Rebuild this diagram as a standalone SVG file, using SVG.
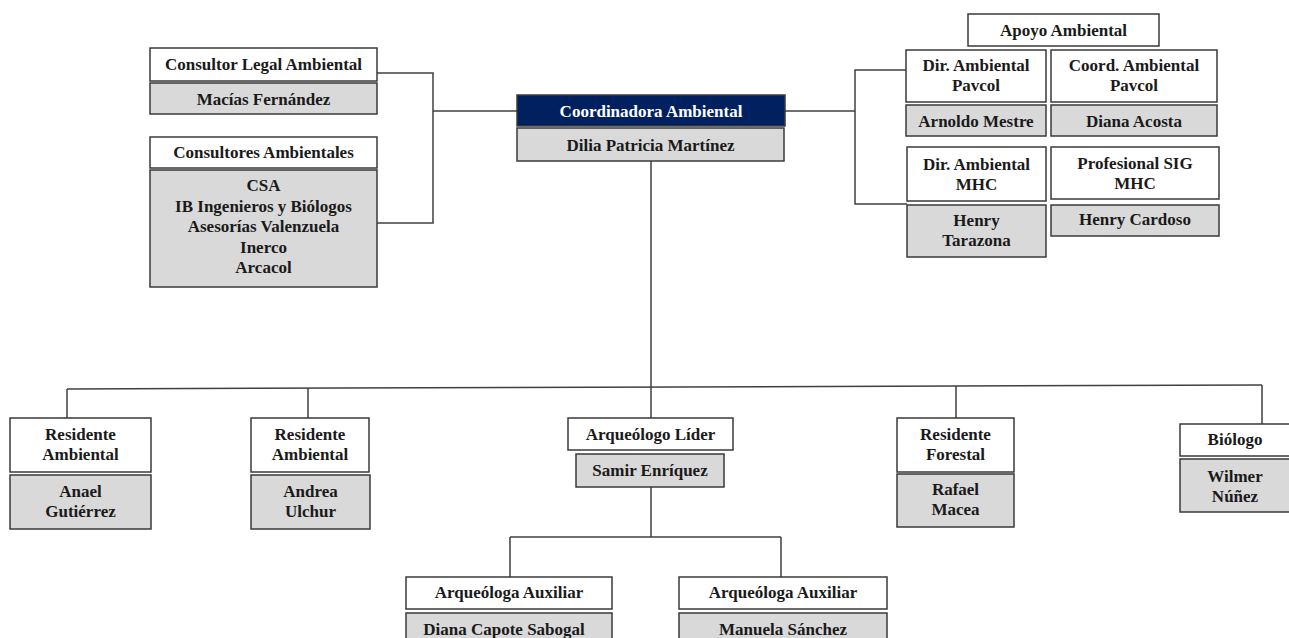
<svg xmlns="http://www.w3.org/2000/svg" width="1289" height="638" viewBox="0 0 1289 638">
<style>
text{font-family:"Liberation Serif","Times New Roman",serif;font-weight:bold;font-size:17px;fill:#1a1a1a;text-anchor:middle}
.w{fill:#ffffff;stroke:#3a3a3a;stroke-width:1.5}
.g{fill:#d9d9d9;stroke:#3a3a3a;stroke-width:1.5}
.n{fill:#002060;stroke:#3a3a3a;stroke-width:1.5}
.wt{fill:#ffffff}
.c{fill:none;stroke:#404040;stroke-width:1.5}
</style>
<rect width="1289" height="638" fill="#ffffff"/>
<g id="connectors">
<path class="c" d="M377,73 H433 V223 H377 M433,111 H517"/>
<path class="c" d="M785,111 H855 M906,70 H855 V204 H907"/>
<path class="c" d="M651,161 V418"/>
<path class="c" d="M67,389 L1262,385"/>
<path class="c" d="M67,389 V418 M308,388 V418 M956,386 V418 M1262,385 V424"/>
<path class="c" d="M651,487 V537 M510,537 H781 M510,537 V577 M781,537 V577"/>
</g>
<g id="consultor-legal">
<rect class="w" x="150" y="48" width="227" height="33"/>
<text x="263.5" y="70">Consultor Legal Ambiental</text>
<rect class="g" x="150" y="83" width="227" height="31"/>
<text x="263.5" y="104.5">Macías Fernández</text>
</g>
<g id="consultores-ambientales">
<rect class="w" x="150" y="137" width="227" height="31"/>
<text x="263.5" y="158">Consultores Ambientales</text>
<rect class="g" x="150" y="170" width="227" height="117"/>
<text x="263.5" y="191">CSA</text>
<text x="263.5" y="211.5">IB Ingenieros y Biólogos</text>
<text x="263.5" y="232">Asesorías Valenzuela</text>
<text x="263.5" y="252.5">Inerco</text>
<text x="263.5" y="273">Arcacol</text>
</g>
<g id="coordinadora">
<rect class="n" x="517" y="95" width="268" height="31"/>
<text class="wt" x="651" y="116.5">Coordinadora Ambiental</text>
<rect class="g" x="517" y="128" width="267" height="33"/>
<text x="650.5" y="151">Dilia Patricia Martínez</text>
</g>
<g id="apoyo">
<rect class="w" x="968" y="14" width="191" height="32"/>
<text x="1063.5" y="36">Apoyo Ambiental</text>
</g>
<g id="dir-pavcol">
<rect class="w" x="906" y="50" width="140" height="52"/>
<text x="976" y="71">Dir. Ambiental</text>
<text x="976" y="91">Pavcol</text>
<rect class="g" x="906" y="105" width="140" height="31"/>
<text x="976" y="126.5">Arnoldo Mestre</text>
</g>
<g id="coord-pavcol">
<rect class="w" x="1051" y="50" width="166" height="52"/>
<text x="1134" y="71">Coord. Ambiental</text>
<text x="1134" y="91">Pavcol</text>
<rect class="g" x="1051" y="105" width="166" height="31"/>
<text x="1134" y="126.5">Diana Acosta</text>
</g>
<g id="dir-mhc">
<rect class="w" x="907" y="147" width="139" height="54"/>
<text x="976.5" y="170">Dir. Ambiental</text>
<text x="976.5" y="190">MHC</text>
<rect class="g" x="907" y="205" width="139" height="52"/>
<text x="976.5" y="226">Henry</text>
<text x="976.5" y="246">Tarazona</text>
</g>
<g id="sig-mhc">
<rect class="w" x="1051" y="147" width="168" height="52"/>
<text x="1135" y="169">Profesional SIG</text>
<text x="1135" y="189">MHC</text>
<rect class="g" x="1051" y="205" width="168" height="31"/>
<text x="1135" y="225">Henry Cardoso</text>
</g>
<g id="residente-1">
<rect class="w" x="10" y="418" width="141" height="54"/>
<text x="80.5" y="440">Residente</text>
<text x="80.5" y="460">Ambiental</text>
<rect class="g" x="10" y="475" width="141" height="54"/>
<text x="80.5" y="497">Anael</text>
<text x="80.5" y="517">Gutiérrez</text>
</g>
<g id="residente-2">
<rect class="w" x="251" y="418" width="118" height="54"/>
<text x="310" y="440">Residente</text>
<text x="310" y="460">Ambiental</text>
<rect class="g" x="251" y="475" width="119" height="54"/>
<text x="310.5" y="497">Andrea</text>
<text x="310.5" y="517">Ulchur</text>
</g>
<g id="arqueologo-lider">
<rect class="w" x="568" y="418" width="165" height="32"/>
<text x="650.5" y="440">Arqueólogo Líder</text>
<rect class="g" x="576" y="454" width="148" height="33"/>
<text x="650" y="476">Samir Enríquez</text>
</g>
<g id="residente-forestal">
<rect class="w" x="897" y="418" width="117" height="54"/>
<text x="955.5" y="440">Residente</text>
<text x="955.5" y="460">Forestal</text>
<rect class="g" x="897" y="474" width="117" height="53"/>
<text x="955.5" y="495">Rafael</text>
<text x="955.5" y="515">Macea</text>
</g>
<g id="biologo">
<rect class="w" x="1180" y="424" width="112" height="32"/>
<text x="1235" y="445">Biólogo</text>
<rect class="g" x="1180" y="459" width="112" height="53"/>
<text x="1235" y="481.5">Wilmer</text>
<text x="1235" y="501.5">Núñez</text>
</g>
<g id="arqueologa-1">
<rect class="w" x="406" y="577" width="206" height="32"/>
<text x="509" y="598">Arqueóloga Auxiliar</text>
<rect class="g" x="406" y="613" width="206" height="35"/>
<text x="504" y="635">Diana Capote Sabogal</text>
</g>
<g id="arqueologa-2">
<rect class="w" x="679" y="577" width="208" height="32"/>
<text x="783" y="598">Arqueóloga Auxiliar</text>
<rect class="g" x="679" y="613" width="208" height="35"/>
<text x="783" y="635">Manuela Sánchez</text>
</g>
</svg>
